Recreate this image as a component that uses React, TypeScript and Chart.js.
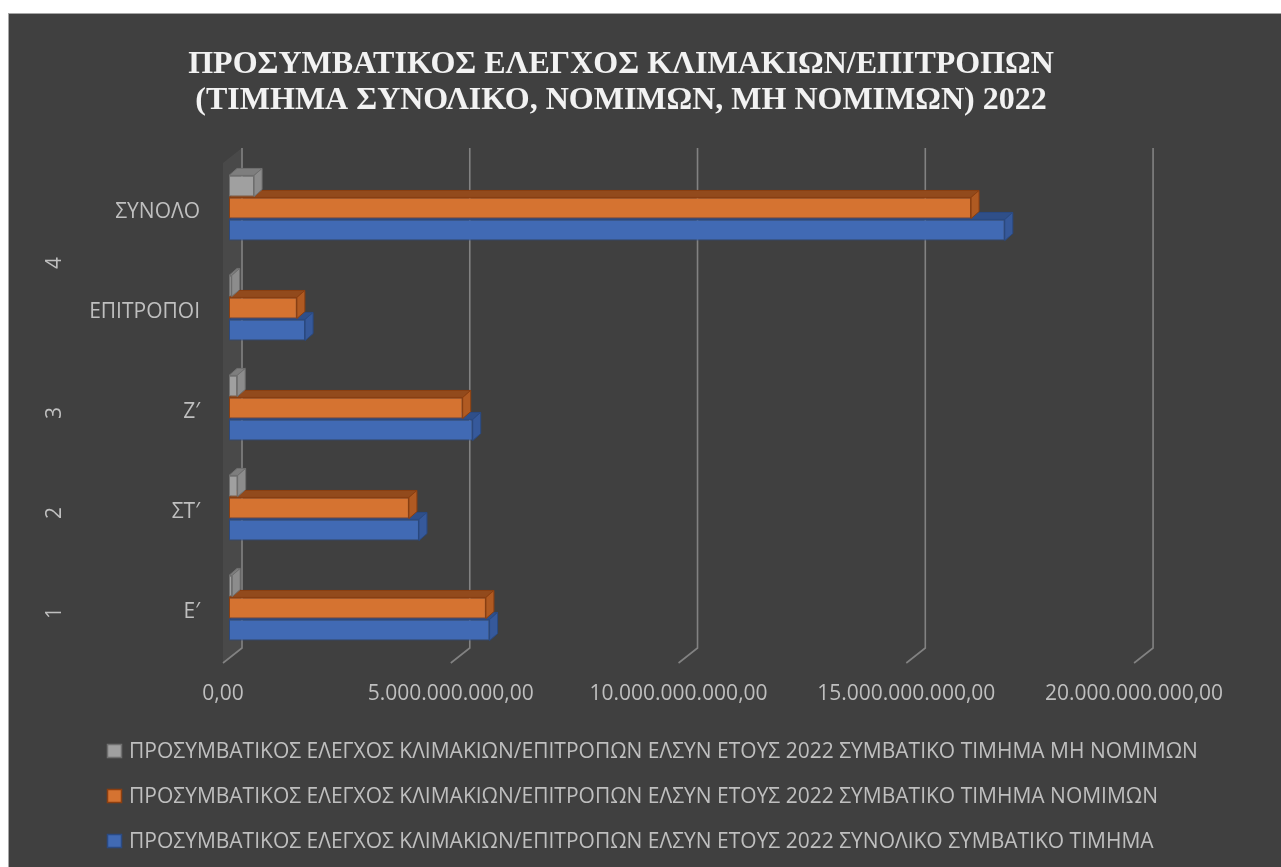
import React, { useEffect, useRef } from 'react';
import { Chart, registerables } from 'chart.js';

Chart.register(...registerables);

const TITLE_LINES = [
  'ΠΡΟΣΥΜΒΑΤΙΚΟΣ ΕΛΕΓΧΟΣ ΚΛΙΜΑΚΙΩΝ/ΕΠΙΤΡΟΠΩΝ',
  '(ΤΙΜΗΜΑ ΣΥΝΟΛΙΚΟ, ΝΟΜΙΜΩΝ, ΜΗ ΝΟΜΙΜΩΝ) 2022',
];

// top to bottom
const CATEGORIES = ['ΣΥΝΟΛΟ', 'ΕΠΙΤΡΟΠΟΙ', 'Ζ′', 'ΣΤ′', 'Ε′'];
const GROUPS = ['4', '4', '3', '2', '1'];

const SERIES_LABELS = [
  'ΠΡΟΣΥΜΒΑΤΙΚΟΣ ΕΛΕΓΧΟΣ ΚΛΙΜΑΚΙΩΝ/ΕΠΙΤΡΟΠΩΝ ΕΛΣΥΝ ΕΤΟΥΣ 2022 ΣΥΜΒΑΤΙΚΟ ΤΙΜΗΜΑ ΜΗ ΝΟΜΙΜΩΝ',
  'ΠΡΟΣΥΜΒΑΤΙΚΟΣ ΕΛΕΓΧΟΣ ΚΛΙΜΑΚΙΩΝ/ΕΠΙΤΡΟΠΩΝ ΕΛΣΥΝ ΕΤΟΥΣ 2022 ΣΥΜΒΑΤΙΚΟ ΤΙΜΗΜΑ ΝΟΜΙΜΩΝ',
  'ΠΡΟΣΥΜΒΑΤΙΚΟΣ ΕΛΕΓΧΟΣ ΚΛΙΜΑΚΙΩΝ/ΕΠΙΤΡΟΠΩΝ ΕΛΣΥΝ ΕΤΟΥΣ 2022 ΣΥΝΟΛΙΚΟ ΣΥΜΒΑΤΙΚΟ ΤΙΜΗΜΑ',
];

const NON_LEGAL = [550000000, 60000000, 180000000, 190000000, 70000000];
const LEGAL = [16290000000, 1490000000, 5130000000, 3950000000, 5640000000];
const TOTAL = [17030000000, 1670000000, 5350000000, 4170000000, 5720000000];

const X_TICKS = [0, 5000000000, 10000000000, 15000000000, 20000000000];
const X_MAX = 22040000000;

const BG = '#404040';
const TEXT = '#bfbfbf';
const FONT = 'Open Sans';

const BAR_DEPTH = { dx: 8, dy: 7 };
const WALL_FRONT = { dx: -6, dy: 5 };
const WALL_BACK = { dx: 13, dy: -10 };

function fmt(v: number): string {
  const s = Math.round(v).toString().replace(/\B(?=(\d{3})+(?!\d))/g, '.');
  return s + ',00';
}

const excel3d = {
  id: 'excel3d',
  beforeDatasetsDraw(chart: any) {
    const { ctx, chartArea, scales } = chart;
    const { left, top, bottom } = chartArea;
    const x = scales.x;
    ctx.save();
    // left side wall
    ctx.beginPath();
    ctx.moveTo(left + WALL_FRONT.dx, top + WALL_FRONT.dy);
    ctx.lineTo(left + WALL_BACK.dx, top + WALL_BACK.dy);
    ctx.lineTo(left + WALL_BACK.dx, bottom + WALL_BACK.dy);
    ctx.lineTo(left + WALL_FRONT.dx, bottom + WALL_FRONT.dy);
    ctx.closePath();
    ctx.fillStyle = 'rgba(255,255,255,0.05)';
    ctx.fill();
    // gridlines on back wall and floor
    ctx.strokeStyle = '#828282';
    ctx.lineWidth = 1.6;
    for (const v of X_TICKS) {
      const px = x.getPixelForValue(v);
      ctx.beginPath();
      ctx.moveTo(px + WALL_BACK.dx, top + WALL_BACK.dy);
      ctx.lineTo(px + WALL_BACK.dx, bottom + WALL_BACK.dy);
      ctx.lineTo(px + WALL_FRONT.dx, bottom + WALL_FRONT.dy);
      ctx.stroke();
    }
    ctx.restore();
  },
  afterDatasetDraw(chart: any, args: any) {
    const { ctx } = chart;
    const ds = chart.data.datasets[args.index];
    const { dx, dy } = BAR_DEPTH;
    ctx.save();
    ctx.lineWidth = 1;
    ctx.strokeStyle = ds.borderColor;
    for (const el of args.meta.data) {
      const p = el.getProps(['x', 'y', 'base', 'height'], true);
      const l = Math.min(p.x, p.base);
      const r = Math.max(p.x, p.base);
      const t = p.y - p.height / 2;
      const b = p.y + p.height / 2;
      // top face
      ctx.beginPath();
      ctx.moveTo(l, t);
      ctx.lineTo(l + dx, t - dy);
      ctx.lineTo(r + dx, t - dy);
      ctx.lineTo(r, t);
      ctx.closePath();
      ctx.fillStyle = ds.topColor;
      ctx.fill();
      ctx.stroke();
      // side face
      ctx.beginPath();
      ctx.moveTo(r, t);
      ctx.lineTo(r + dx, t - dy);
      ctx.lineTo(r + dx, b - dy);
      ctx.lineTo(r, b);
      ctx.closePath();
      ctx.fillStyle = ds.sideColor;
      ctx.fill();
      ctx.stroke();
    }
    ctx.restore();
  },
  afterDraw(chart: any) {
    const { ctx, scales } = chart;
    const y = scales.y;
    ctx.save();
    // outer category level
    ctx.fillStyle = TEXT;
    ctx.font = `21px "${FONT}"`;
    ctx.textAlign = 'center';
    ctx.textBaseline = 'middle';
    let i = 0;
    while (i < GROUPS.length) {
      let j = i;
      while (j + 1 < GROUPS.length && GROUPS[j + 1] === GROUPS[i]) j++;
      const cy = (y.getPixelForValue(i) + y.getPixelForValue(j)) / 2 + 5;
      ctx.save();
      ctx.translate(46, cy);
      ctx.rotate(-Math.PI / 2);
      ctx.fillText(GROUPS[i], 0, 0);
      ctx.restore();
      i = j + 1;
    }
    // legend
    ctx.font = `21px "${FONT}"`;
    ctx.textAlign = 'left';
    chart.data.datasets.forEach((ds: any, k: number) => {
      const cy = 737 + k * 45;
      ctx.fillStyle = ds.backgroundColor;
      ctx.fillRect(98, cy - 7, 15, 14);
      ctx.strokeStyle = ds.borderColor;
      ctx.lineWidth = 1.5;
      ctx.strokeRect(98.5, cy - 6.5, 14, 13);
      ctx.fillStyle = TEXT;
      ctx.fillText(ds.label, 120, cy + 1);
    });
    ctx.restore();
  },
};

export default function App() {
  const ref = useRef<HTMLCanvasElement | null>(null);

  useEffect(() => {
    if (!ref.current) return;
    const chart = new Chart(ref.current, {
      type: 'bar',
      data: {
        labels: CATEGORIES,
        datasets: [
          {
            label: SERIES_LABELS[0],
            data: NON_LEGAL,
            backgroundColor: '#a0a0a0',
            borderColor: '#6f6f6f',
            topColor: '#7e7e7e',
            sideColor: '#8c8c8c',
          } as any,
          {
            label: SERIES_LABELS[1],
            data: LEGAL,
            backgroundColor: '#d57331',
            borderColor: '#8c3f10',
            topColor: '#924a1c',
            sideColor: '#b05a22',
          } as any,
          {
            label: SERIES_LABELS[2],
            data: TOTAL,
            backgroundColor: '#416ab4',
            borderColor: '#2a4a82',
            topColor: '#2f4f89',
            sideColor: '#36599b',
          } as any,
        ],
      },
      options: {
        indexAxis: 'y',
        animation: false,
        responsive: false,
        layout: { padding: { left: 0, right: 48, top: 0, bottom: 149 } },
        datasets: {
          bar: {
            categoryPercentage: 0.66,
            barPercentage: 0.96,
            borderWidth: 1,
            borderSkipped: false,
          },
        },
        scales: {
          x: {
            type: 'linear',
            position: 'bottom',
            min: 0,
            max: X_MAX,
            grid: { display: false },
            border: { display: false },
            ticks: {
              color: TEXT,
              font: { family: FONT, size: 21 },
              padding: 15,
              labelOffset: -6,
              maxRotation: 0,
              autoSkip: false,
              callback: (v: any) => fmt(Number(v)),
            },
            afterBuildTicks: (scale: any) => {
              scale.ticks = X_TICKS.map((v) => ({ value: v }));
            },
            afterFit: (scale: any) => {
              scale.height = 60;
            },
          },
          y: {
            type: 'category',
            grid: { display: false, drawTicks: false },
            border: { display: false },
            ticks: {
              color: TEXT,
              font: { family: FONT, size: 21 },
              padding: 29,
              labelOffset: 4,
            },
            afterFit: (scale: any) => {
              scale.width = 220;
            },
          },
        },
        plugins: {
          legend: { display: false },
          tooltip: { enabled: false },
          title: {
            display: true,
            text: TITLE_LINES,
            color: '#f2f2f2',
            font: { family: 'Liberation Serif', size: 32, weight: 'bold', lineHeight: 1.125 },
            padding: { top: 33, bottom: 39 },
          },
        },
      } as any,
      plugins: [excel3d],
    });
    return () => chart.destroy();
  }, []);

  return (
    <div
      style={{
        position: 'absolute',
        left: 8,
        top: 13,
        width: 1273,
        height: 854,
        boxSizing: 'border-box',
        borderTop: '1px solid #a6a6a6',
        borderLeft: '1px solid #a6a6a6',
        background: BG,
        overflow: 'hidden',
      }}
    >
      <canvas ref={ref} width={1272} height={853} style={{ display: 'block' }} />
    </div>
  );
}
